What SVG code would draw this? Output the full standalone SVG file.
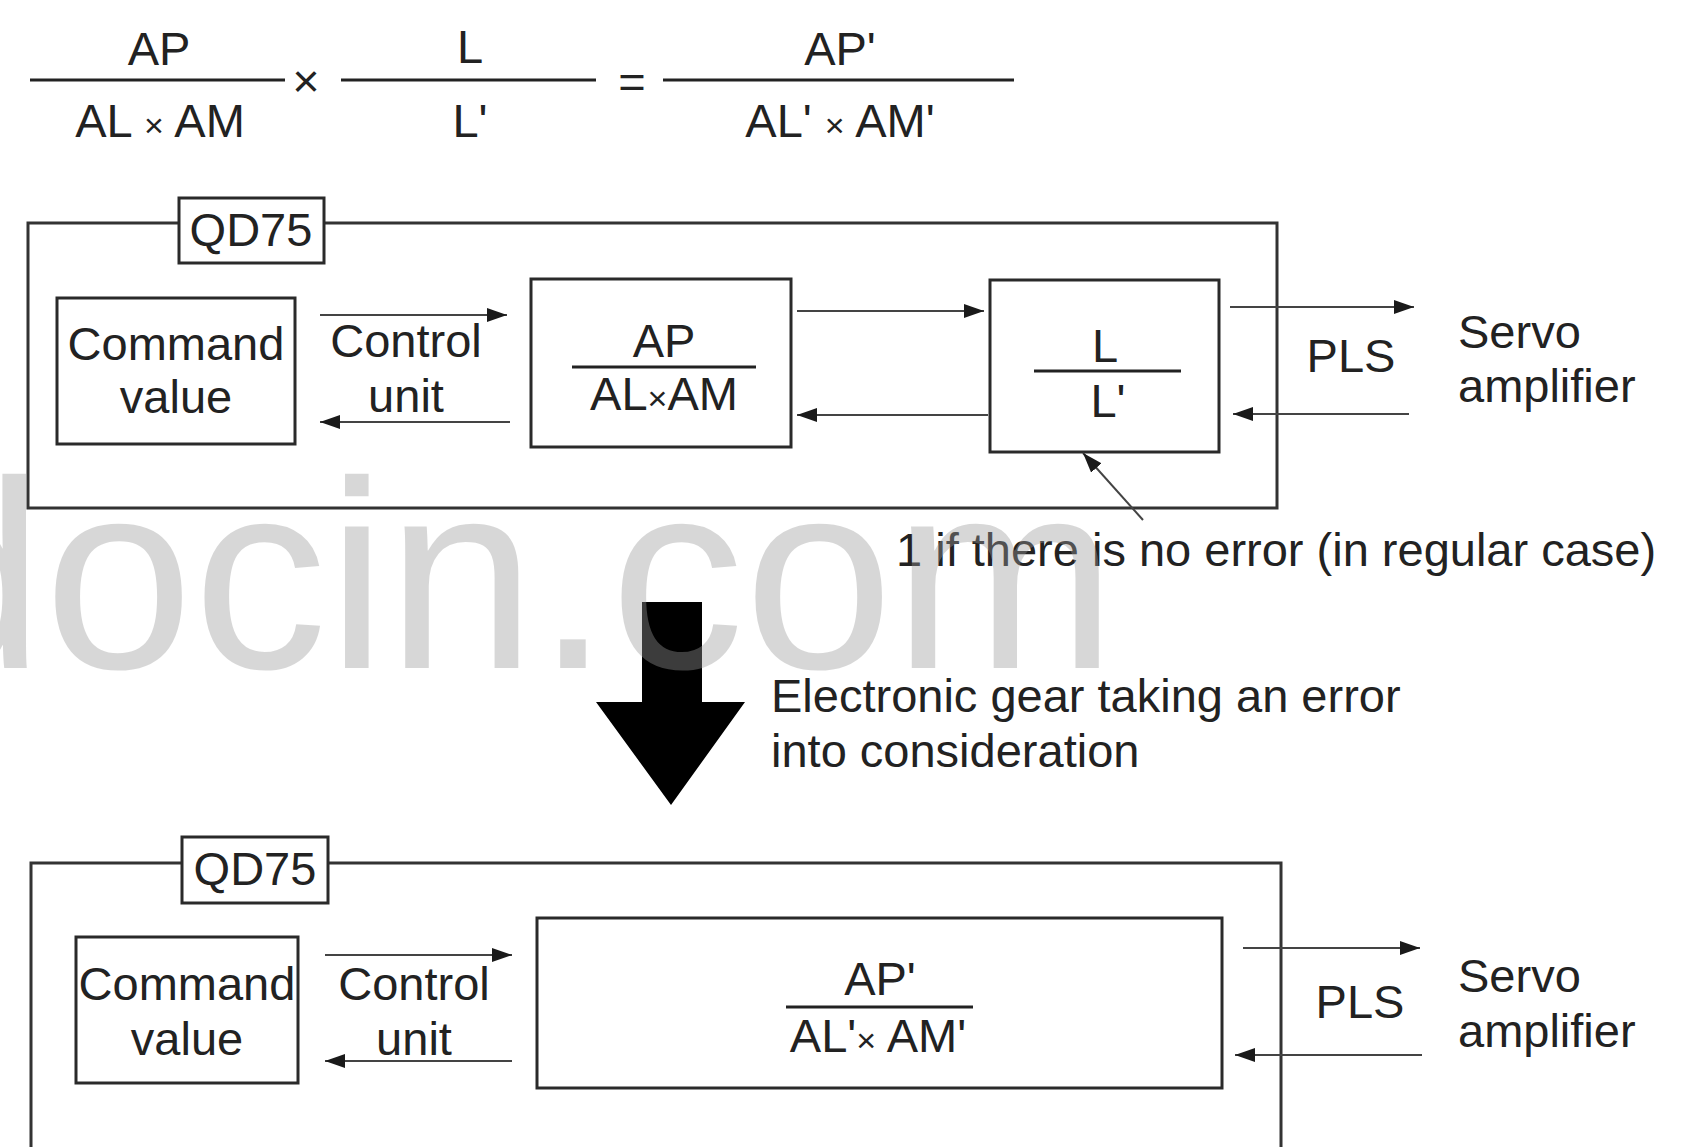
<svg xmlns="http://www.w3.org/2000/svg" width="1701" height="1147" viewBox="0 0 1701 1147">
<defs>
<style>
text{font-family:"Liberation Sans",Arial,sans-serif;font-size:47px;fill:#222}
.m{text-anchor:middle}
.box{fill:#fff;stroke:#2a2a2a;stroke-width:3}
.frame{fill:none;stroke:#333;stroke-width:3}
.rule{stroke:#222;stroke-width:3}
.conn{stroke:#444;stroke-width:2;fill:none;marker-end:url(#ah)}
.wm{font-size:268px;fill:#9b9b9b;opacity:0.39}
</style>
<marker id="ah" markerWidth="20" markerHeight="14" refX="20" refY="7" orient="auto" markerUnits="userSpaceOnUse">
<path d="M0,0 L20,7 L0,14 Z" fill="#1a1a1a"/>
</marker>
</defs>
<rect width="1701" height="1147" fill="#fff"/>

<g id="equation">
<text class="m" x="159" y="65">AP</text>
<line class="rule" x1="30" y1="80" x2="285" y2="80"/>
<text class="m" x="160" y="137">AL <tspan font-size="34">×</tspan> AM</text>
<text class="m" x="306" y="97" font-size="38">×</text>
<text class="m" x="470" y="63">L</text>
<line class="rule" x1="341" y1="80" x2="596" y2="80"/>
<text class="m" x="470" y="137">L'</text>
<text class="m" x="632" y="98" font-size="40">=</text>
<text class="m" x="840" y="65">AP'</text>
<line class="rule" x1="663" y1="80" x2="1014" y2="80"/>
<text class="m" x="840" y="137">AL' <tspan font-size="34">×</tspan> AM'</text>
</g>

<g id="qd75-top">
<rect class="frame" x="28" y="223" width="1249" height="285"/>
<rect class="box" x="179" y="198" width="145" height="65"/>
<text class="m" x="251" y="246">QD75</text>
</g>

<g id="command-value-top">
<rect class="box" x="57" y="298" width="238" height="146"/>
<text class="m" x="176" y="360">Command</text>
<text class="m" x="176" y="413">value</text>
</g>

<g id="control-unit-top">
<text class="m" x="406" y="357">Control</text>
<text class="m" x="406" y="412">unit</text>
</g>

<g id="gear-ap-top">
<rect class="box" x="531" y="279" width="260" height="168"/>
<text class="m" x="664" y="357">AP</text>
<line class="rule" x1="572" y1="367" x2="756" y2="367"/>
<text class="m" x="664" y="410">AL<tspan font-size="34">×</tspan>AM</text>
</g>

<g id="gear-l-top">
<rect class="box" x="990" y="280" width="229" height="172"/>
<text class="m" x="1105" y="362">L</text>
<line class="rule" x1="1034" y1="371" x2="1181" y2="371"/>
<text class="m" x="1108" y="417">L'</text>
</g>

<g id="pls-top">
<text class="m" x="1351" y="372">PLS</text>
</g>

<g id="servo-top">
<text x="1458" y="348">Servo</text>
<text x="1458" y="402">amplifier</text>
</g>

<g id="note">
<text x="896" y="566">1 if there is no error (in regular case)</text>
</g>

<g id="transition">
<polygon points="642,602 702,602 702,702 745,702 671,805 596,702 642,702" fill="#000"/>
<text x="771" y="712">Electronic gear taking an error</text>
<text x="771" y="767">into consideration</text>
</g>

<g id="qd75-bottom">
<rect class="frame" x="31" y="863" width="1250" height="310"/>
<rect class="box" x="182" y="837" width="146" height="66"/>
<text class="m" x="255" y="885">QD75</text>
</g>

<g id="command-value-bottom">
<rect class="box" x="76" y="937" width="222" height="146"/>
<text class="m" x="187" y="1000">Command</text>
<text class="m" x="187" y="1055">value</text>
</g>

<g id="control-unit-bottom">
<text class="m" x="414" y="1000">Control</text>
<text class="m" x="414" y="1055">unit</text>
</g>

<g id="gear-bottom">
<rect class="box" x="537" y="918" width="685" height="170"/>
<text class="m" x="880" y="995">AP'</text>
<line class="rule" x1="786" y1="1007" x2="973" y2="1007"/>
<text class="m" x="878" y="1052">AL'<tspan font-size="34">×</tspan> AM'</text>
</g>

<g id="pls-bottom">
<text class="m" x="1360" y="1018">PLS</text>
</g>

<g id="servo-bottom">
<text x="1458" y="992">Servo</text>
<text x="1458" y="1047">amplifier</text>
</g>

<g id="connectors">
<line class="conn" x1="320" y1="315" x2="507" y2="315"/>
<line class="conn" x1="510" y1="422" x2="320" y2="422"/>
<line class="conn" x1="797" y1="311" x2="984" y2="311"/>
<line class="conn" x1="988" y1="415" x2="797" y2="415"/>
<line class="conn" x1="1230" y1="307" x2="1414" y2="307"/>
<line class="conn" x1="1409" y1="414" x2="1233" y2="414"/>
<line class="conn" x1="1143" y1="520" x2="1083" y2="453"/>
<line class="conn" x1="325" y1="955" x2="512" y2="955"/>
<line class="conn" x1="512" y1="1061" x2="325" y2="1061"/>
<line class="conn" x1="1243" y1="948" x2="1420" y2="948"/>
<line class="conn" x1="1422" y1="1055" x2="1235" y2="1055"/>
</g>

<text class="wm" x="-105" y="668">docin.com</text>
</svg>
